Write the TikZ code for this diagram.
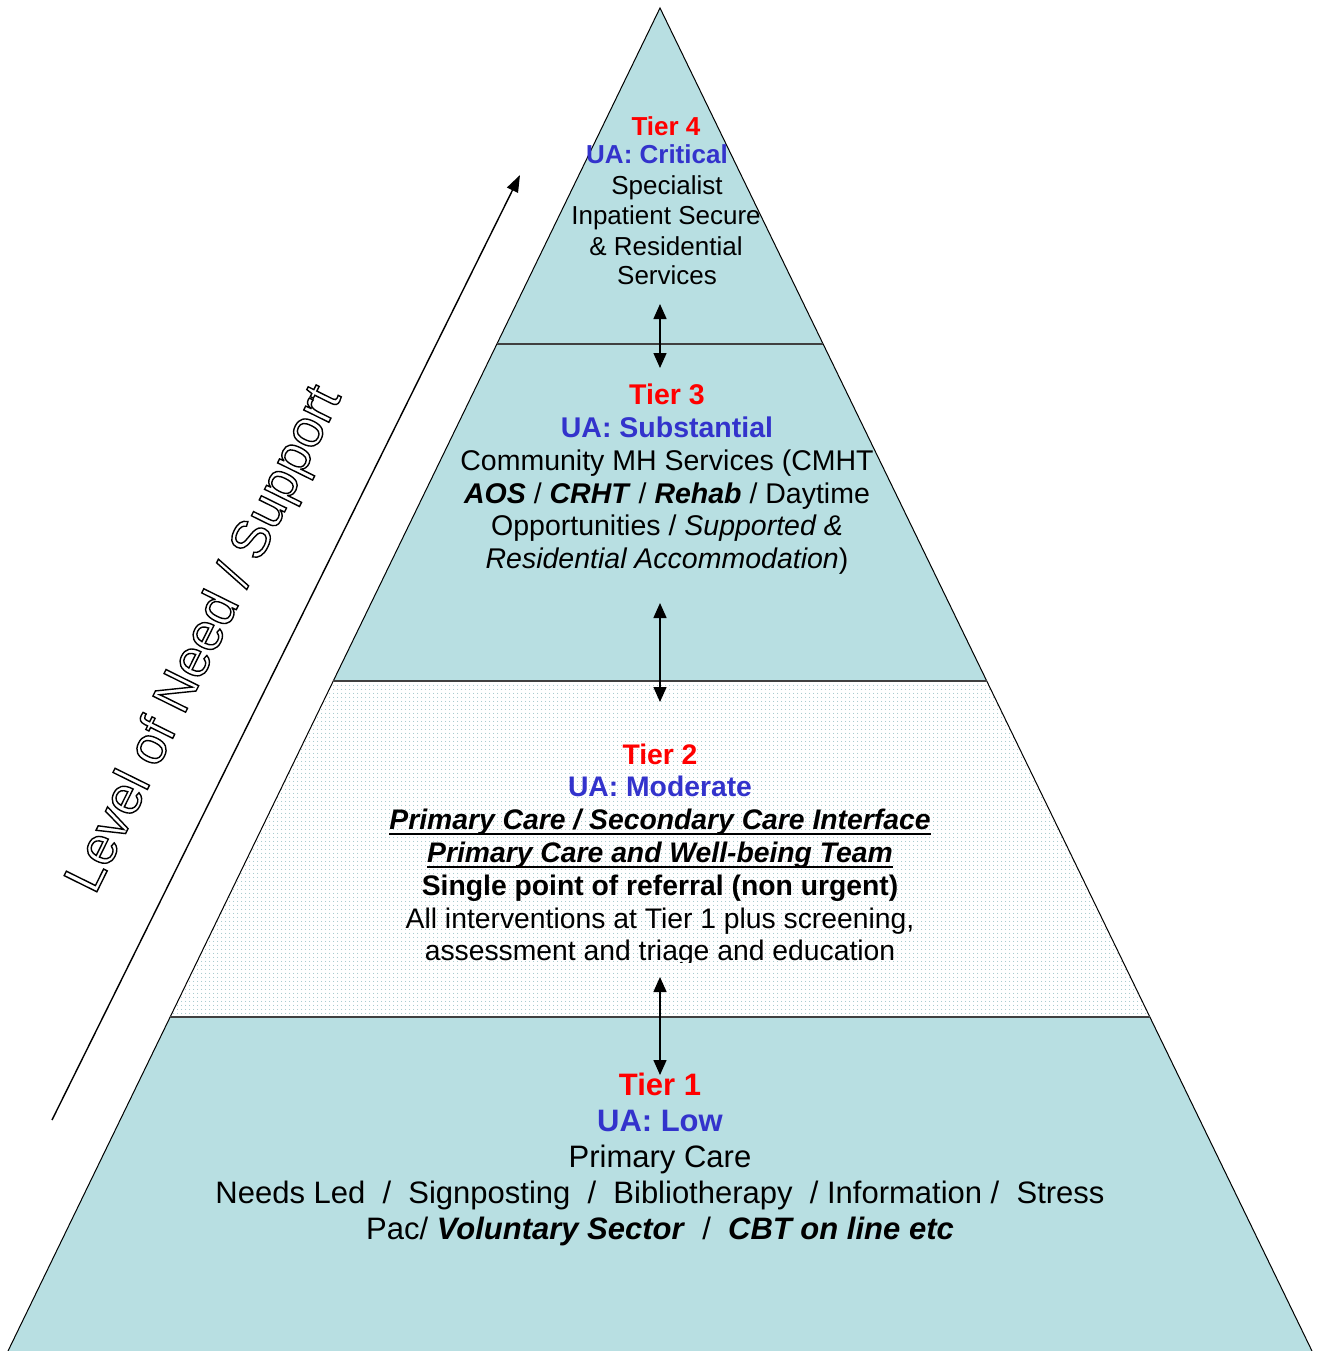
\documentclass[tikz,border=0pt]{standalone}
\usepackage{fontspec}
\setmainfont{Liberation Sans}
\usetikzlibrary{arrows.meta,patterns}
\definecolor{tealfill}{RGB}{184,223,226}
\definecolor{dotcol}{RGB}{140,186,191}
\definecolor{tierred}{RGB}{255,0,0}
\definecolor{tierblue}{RGB}{51,51,204}
\definecolor{sepgrey}{RGB}{64,64,64}
\pgfdeclarepatternformonly{finedots}{\pgfpointorigin}{\pgfpoint{4pt}{4pt}}{\pgfpoint{4pt}{4pt}}{\pgfpathcircle{\pgfpoint{2pt}{2pt}}{0.6pt}\pgfusepath{fill}}
\newcommand{\myuline}[1]{\setbox0\hbox{#1}\leavevmode\rlap{\vrule width\wd0 height -4pt depth 6.4pt}\box0}
\newcommand{\outlinetext}[1]{\special{pdf:literal direct 1 Tr 1.4 w}#1\special{pdf:literal direct 0 Tr}}
\tikzset{
  tierfill/.style={fill=tealfill},
  dotfill/.style={pattern=finedots, pattern color=dotcol},
  sepline/.style={draw=sepgrey, line width=1.5pt},
  edgeline/.style={draw=black, line width=1pt},
  dblarrow/.style={line width=1.5pt, {Triangle[length=15pt,width=13pt]}-{Triangle[length=15pt,width=13pt]}},
  uparrow/.style={line width=1.4pt, -{Triangle[length=17pt,width=12pt]}},
  lfour/.style={anchor=base, inner sep=0pt, font=\fontsize{26}{30}\selectfont},
  lthree/.style={anchor=base, inner sep=0pt, font=\fontsize{28.5}{33}\selectfont},
  ltwo/.style={anchor=base, inner sep=0pt, font=\fontsize{28.3}{33}\selectfont},
  lone/.style={anchor=base, inner sep=0pt, font=\fontsize{31}{36}\selectfont},
  redhead/.style={text=tierred},
  bluehead/.style={text=tierblue},
}
\begin{document}
\begin{tikzpicture}[x=1pt,y=-1pt]
\useasboundingbox (0,0) rectangle (1319,1351);
% tiers
\fill[tierfill] (660,8) -- (823,344) -- (497,344) -- cycle;
\fill[tierfill] (497,344) -- (823,344) -- (987,681) -- (333,681) -- cycle;
\fill[white] (333,681) -- (987,681) -- (1150,1017) -- (170,1017) -- cycle;
\fill[dotfill] (333,681) -- (987,681) -- (1150,1017) -- (170,1017) -- cycle;
\fill[tierfill] (170,1017) -- (1150,1017) -- (1312,1351) -- (8,1351) -- cycle;
% edges
\draw[edgeline] (8,1351) -- (660,8) -- (1312,1351);
\draw[sepline] (497,344) -- (823,344);
\draw[sepline] (333,681) -- (987,681);
\draw[sepline] (170,1017) -- (1150,1017);

% Tier 4 text
\node[lfour,redhead] (t4a) at (666,136) {\textbf{Tier 4}};
\node[lfour,bluehead] (t4b) at (657,164) {\textbf{UA: Critical}};
\node[lfour] (t4c) at (667,194) {Specialist};
\node[lfour] (t4d) at (666,224) {Inpatient Secure};
\node[lfour] (t4e) at (666,255) {\& Residential};
\node[lfour] (t4f) at (667,284) {Services};

% Tier 3 text
\node[lthree,redhead] (t3a) at (667,404) {\textbf{Tier 3}};
\node[lthree,bluehead] (t3b) at (667,437) {\textbf{UA: Substantial}};
\node[lthree] (t3c) at (667,470) {Community MH Services (CMHT};
\node[lthree] (t3d) at (667,503) {\textbf{\textit{AOS}} / \textbf{\textit{CRHT}} / \textbf{\textit{Rehab}} / Daytime};
\node[lthree] (t3e) at (667,535) {Opportunities / \textit{Supported \&}};
\node[lthree] (t3f) at (667,568) {\textit{Residential Accommodation})};

% Tier 2 text
\node[ltwo,redhead] (t2a) at (660,764) {\textbf{Tier 2}};
\node[ltwo,bluehead] (t2b) at (660,796) {\textbf{UA: Moderate}};
\node[ltwo] (t2c) at (660,829) {\myuline{\textbf{\textit{Primary Care / Secondary Care Interface}}}};
\node[ltwo] (t2d) at (660,862) {\myuline{\textbf{\textit{Primary Care and Well-being Team}}}};
\node[ltwo] (t2e) at (660,895) {\textbf{Single point of referral (non urgent)}};
\node[ltwo] (t2f) at (660,928) {All interventions at Tier 1 plus screening,};
\begin{scope}
\clip (0,0) rectangle (1319,962);
\node[ltwo] (t2g) at (660,960) {assessment and triage and education};
\end{scope}

% Tier 1 text
\node[lone,redhead] (t1a) at (660,1095) {\textbf{Tier 1}};
\node[lone,bluehead] (t1b) at (660,1131) {\textbf{UA: Low}};
\node[lone] (t1c) at (660,1167) {Primary Care};
\node[lone] (t1d) at (660,1203) {Needs Led~~/~~Signposting~~/~~Bibliotherapy~~/ Information /~~Stress};
\node[lone] (t1e) at (660,1239) {Pac/ \textbf{\textit{Voluntary Sector}}~~/~~\textbf{\textit{CBT on line etc}}};

% arrows between tiers
\coordinate (a43t) at (660,304);
\coordinate (a43b) at (660,368);
\coordinate (a32t) at (660,603);
\coordinate (a32b) at (660,702);
\coordinate (a21t) at (660,977);
\coordinate (a21b) at (660,1075);
\draw[dblarrow] (a43t) -- (a43b);
\draw[dblarrow] (a32t) -- (a32b);
\draw[dblarrow] (a21t) -- (a21b);

% level of need arrow
\coordinate (lvs) at (52,1120);
\coordinate (lve) at (520,175);
\draw[uparrow] (lvs) -- (lve);
\node[rotate=63.7, inner sep=0pt, font=\fontsize{53}{58}\selectfont] (lvl) at (206,640) {\outlinetext{Level of Need / Support}};
\end{tikzpicture}
\end{document}
